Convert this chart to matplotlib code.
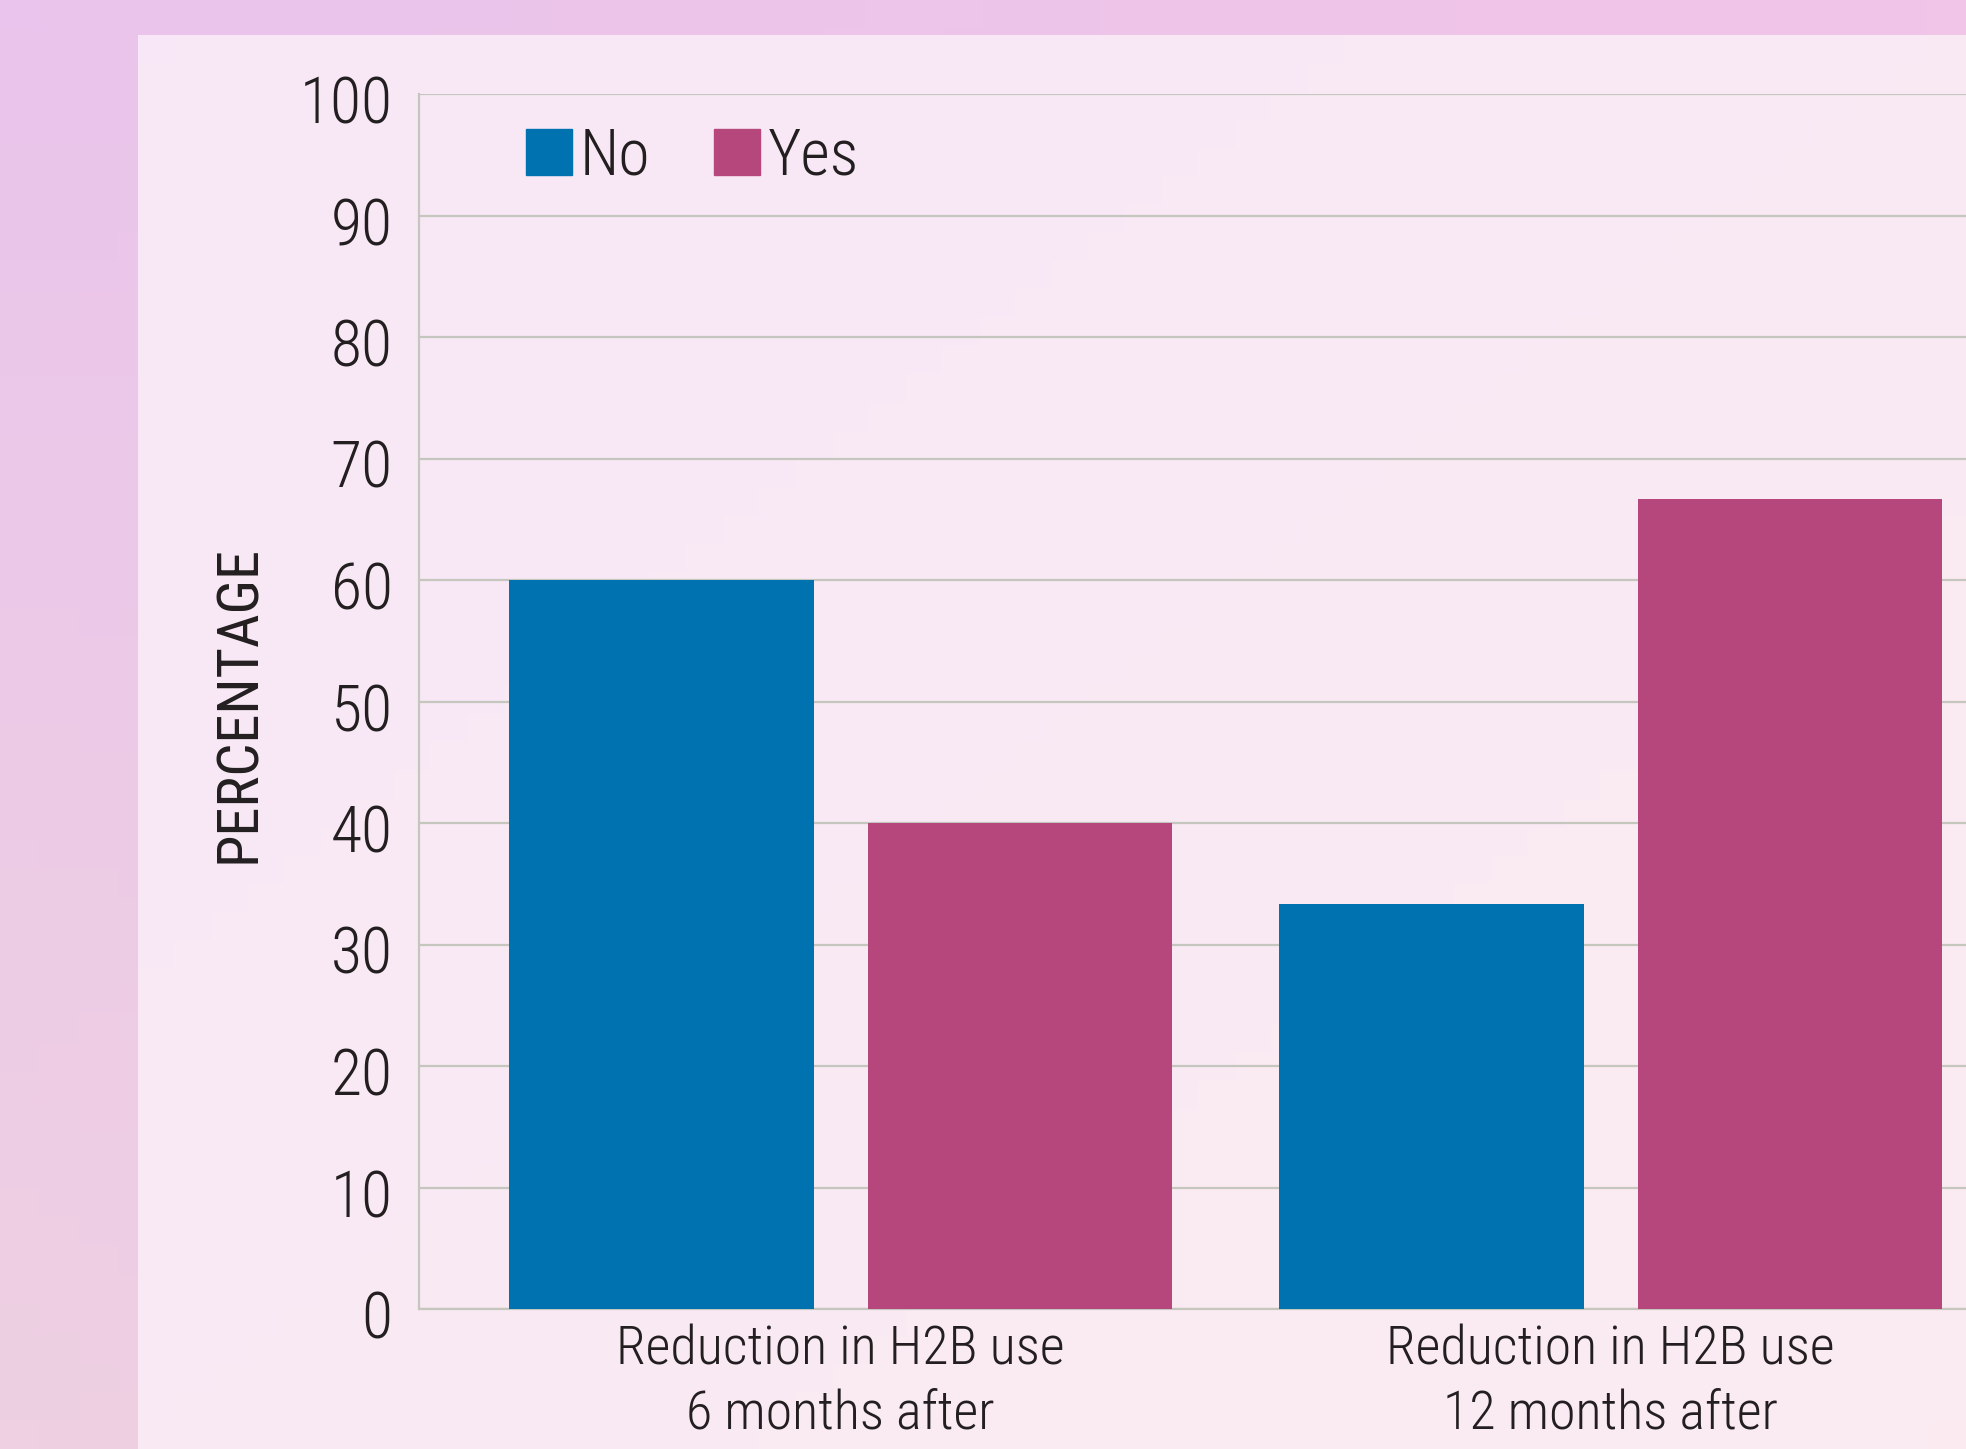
import matplotlib.pyplot as plt
import matplotlib.transforms as mtransforms
import numpy as np
from matplotlib.patches import Patch

# data
groups = ['Reduction in H2B use\n6 months after', 'Reduction in H2B use\n12 months after']
no_vals = [60.0, 33.3]
yes_vals = [40.0, 66.7]
series_names = ['No', 'Yes']
yticks = list(range(0, 101, 10))

blue = '#0072B0'
magenta = '#B6477D'
txt = '#231F20'
grid_c = '#C5C6BE'

plt.rcParams['font.family'] = ['Roboto Condensed', 'DejaVu Sans']
plt.rcParams['font.weight'] = 300

W, H = 1966, 1449
fig = plt.figure(figsize=(W / 100, H / 100), dpi=100)

# outer pink frame (gradient)
bg = fig.add_axes([0, 0, 1, 1], zorder=-10)
yy, xx = np.mgrid[0:1:50j, 0:1:50j]
c_tl = np.array([234, 196, 236]) / 255
c_tr = np.array([241, 197, 232]) / 255
c_bl = np.array([238, 208, 226]) / 255
img = (c_tl[None, None] * (1 - xx[..., None]) * (1 - yy[..., None])
       + c_tr[None, None] * xx[..., None] * (1 - yy[..., None])
       + c_bl[None, None] * (1 - xx[..., None]) * yy[..., None]
       + c_tr[None, None] * xx[..., None] * yy[..., None])
bg.imshow(img, extent=[0, 1, 0, 1], aspect='auto', origin='upper')
bg.axis('off')

# inner lighter panel
px0, py0 = 138 / W, 35 / H
pn = fig.add_axes([px0, 0, 1 - px0, 1 - py0], zorder=-9)
p_tl = np.array([248, 232, 247]) / 255
p_br = np.array([251, 235, 241]) / 255
t = (xx + yy) / 2
pimg = p_tl[None, None] * (1 - t[..., None]) + p_br[None, None] * t[..., None]
pn.imshow(pimg, extent=[0, 1, 0, 1], aspect='auto', origin='upper')
pn.axis('off')

# main axes
left = 419 / W
bottom = 1 - 1309 / H
top = 1 - 94 / H
ax = fig.add_axes([left, bottom, 1 - left, top - bottom])
ax.patch.set_alpha(0)

x = np.arange(len(groups))
off = 0.2328
w = 0.396
ax.bar(x - off, no_vals, w, color=blue, zorder=3)
ax.bar(x + off, yes_vals, w, color=magenta, zorder=3)

ax.set_xlim(-0.5477, 1.4614)
ax.set_ylim(0, 100)
ax.set_yticks(yticks)
ax.set_yticklabels([str(v) for v in yticks])
ax.yaxis.grid(True, color=grid_c, linewidth=1.6, zorder=0)
ax.set_axisbelow(True)
ax.tick_params(axis='y', length=0, pad=19, labelsize=46, labelcolor=txt)
shift = mtransforms.ScaledTranslation(0, -5 / 100, fig.dpi_scale_trans)
for lab in ax.get_yticklabels():
    lab.set_transform(lab.get_transform() + shift)
ax.set_xticks(x)
ax.set_xticklabels(groups, fontsize=39, color=txt, linespacing=1.3)
ax.tick_params(axis='x', length=0, pad=11)

for s in ['top', 'right']:
    ax.spines[s].set_visible(False)
for s in ['left', 'bottom']:
    ax.spines[s].set_color(grid_c)
    ax.spines[s].set_linewidth(1.6)

fig.text(240 / W, 1 - 704 / H, 'PERCENTAGE', rotation=90, ha='center', va='center',
         fontsize=42, color=txt, fontweight=400)

handles = [Patch(color=blue), Patch(color=magenta)]
ax.legend(handles, series_names, loc='center left', bbox_to_anchor=(0.0692, 0.9486),
          ncol=2, frameon=False, fontsize=46, labelcolor=txt,
          handlelength=0.72, handleheight=0.72, handletextpad=0.12,
          columnspacing=1.0, borderaxespad=0, borderpad=0)

fig.savefig('out.png', dpi=100)
